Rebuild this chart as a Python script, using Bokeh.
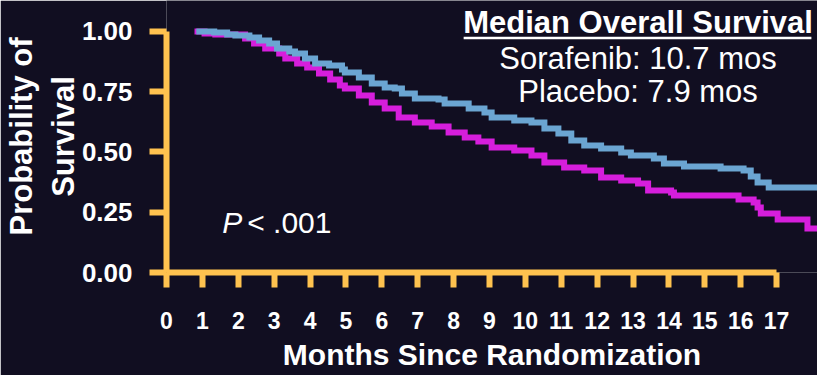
from bokeh.plotting import figure
from bokeh.models import FixedTicker, Label, Range1d, ColumnDataSource
from bokeh.embed import file_html
from bokeh.resources import INLINE

# ---- data ----
months_sorafenib = [0.83, 1.33, 1.69, 1.92, 2.31, 2.58, 2.86, 3.08, 3.42, 3.58, 3.86, 4.14,
                    4.53, 4.89, 4.97, 5.36, 5.72, 6.08, 6.36, 6.56, 6.92, 7.58, 7.75, 8.42,
                    8.86, 9.06, 9.69, 10.17, 10.53, 10.92, 11.28, 11.64, 12.11, 12.67, 12.94,
                    13.58, 13.86, 14.42, 15.44, 16.08, 16.28, 16.47, 16.78, 18.14]
surv_sorafenib = [1.000, 0.996, 0.988, 0.983, 0.975, 0.963, 0.950, 0.929, 0.917, 0.909, 0.888, 0.867,
                  0.859, 0.842, 0.830, 0.809, 0.784, 0.768, 0.763, 0.743, 0.722, 0.718, 0.701, 0.680,
                  0.664, 0.643, 0.631, 0.622, 0.598, 0.577, 0.548, 0.527, 0.515, 0.498, 0.485,
                  0.473, 0.452, 0.440, 0.432, 0.423, 0.398, 0.373, 0.353, 0.349]

months_placebo = [0.78, 1.06, 1.36, 2.19, 2.44, 2.75, 3.14, 3.31, 3.64, 3.92, 4.25, 4.56,
                  4.83, 4.97, 5.36, 5.72, 6.08, 6.47, 6.92, 7.39, 7.86, 8.31, 8.69, 9.06,
                  9.69, 10.17, 10.53, 11.08, 11.64, 12.11, 12.67, 13.14, 13.42, 14.06, 14.14,
                  15.94, 16.36, 16.47, 16.56, 17.03, 17.86, 18.14]
surv_placebo = [1.000, 0.992, 0.988, 0.971, 0.950, 0.929, 0.909, 0.888, 0.867, 0.851, 0.826, 0.801,
                0.776, 0.763, 0.734, 0.705, 0.680, 0.643, 0.622, 0.606, 0.581, 0.560, 0.544, 0.519,
                0.506, 0.485, 0.456, 0.436, 0.423, 0.394, 0.382, 0.369, 0.340, 0.332, 0.320,
                0.303, 0.290, 0.270, 0.245, 0.220, 0.183, 0.183]

x_ticks = list(range(0, 18))
y_ticks = [0.0, 0.25, 0.5, 0.75, 1.0]
y_tick_labels = ["0.00", "0.25", "0.50", "0.75", "1.00"]

title_text = "Median Overall Survival"
sorafenib_text = "Sorafenib: 10.7 mos"
placebo_text = "Placebo: 7.9 mos"
p_text = "P"
p_value_text = "< .001"

# ---- styling ----
BG = "#110e21"
YELLOW = "#ffc24f"
BLUE = "#6ba5d2"
MAGENTA = "#d61edc"
FONT = "Liberation Sans"

p = figure(width=817, height=375, output_backend="svg", toolbar_location=None,
           x_range=Range1d(0, 18.14), y_range=Range1d(0, 1.1286),
           min_border_left=164, min_border_right=0, min_border_top=0, min_border_bottom=103)
p.background_fill_color = BG
p.border_fill_color = BG
p.outline_line_color = None
p.grid.visible = False

src_p = ColumnDataSource(dict(t=months_placebo, s=surv_placebo))
src_s = ColumnDataSource(dict(t=months_sorafenib, s=surv_sorafenib))
p.step(x="t", y="s", source=src_p, mode="after", line_color=MAGENTA, line_width=6, line_join="miter")
p.step(x="t", y="s", source=src_s, mode="after", line_color=BLUE, line_width=6, line_join="miter")

# axes
xa = p.xaxis[0]
xa.ticker = FixedTicker(ticks=x_ticks)
xa.bounds = (0, 17)
xa.axis_line_color = YELLOW
xa.axis_line_width = 6
xa.major_tick_line_color = YELLOW
xa.major_tick_line_width = 6
xa.major_tick_in = 0
xa.major_tick_out = 15
xa.minor_tick_line_color = None
xa.major_label_text_color = "white"
xa.major_label_text_font = FONT
xa.major_label_text_font_style = "bold"
xa.major_label_text_font_size = "23px"
xa.major_label_standoff = 24
xa.axis_label = "Months Since Randomization"
xa.axis_label_text_color = "white"
xa.axis_label_text_font = FONT
xa.axis_label_text_font_style = "bold"
xa.axis_label_text_font_size = "30px"
xa.axis_label_standoff = 6

ya = p.yaxis[0]
ya.ticker = FixedTicker(ticks=y_ticks)
ya.major_label_overrides = {t: l for t, l in zip(y_ticks, y_tick_labels)}
ya.bounds = (0, 1)
ya.axis_line_color = YELLOW
ya.axis_line_width = 6
ya.major_tick_line_color = YELLOW
ya.major_tick_line_width = 6
ya.major_tick_in = 0
ya.major_tick_out = 17
ya.minor_tick_line_color = None
ya.major_label_text_color = "white"
ya.major_label_text_font = FONT
ya.major_label_text_font_style = "bold"
ya.major_label_text_font_size = "26px"
ya.major_label_standoff = 17
ya.axis_label = "Probability of\nSurvival"
ya.axis_label_text_color = "white"
ya.axis_label_text_font = FONT
ya.axis_label_text_font_style = "bold"
ya.axis_label_text_font_size = "31px"
ya.axis_label_standoff = -2

# annotations
cx = 13.14
p.add_layout(Label(x=cx, y=1.037, text=title_text, text_align="center", text_baseline="alphabetic",
                   text_color="white", text_font=FONT, text_font_style="bold", text_font_size="31px"))
p.segment(x0=[8.28], y0=[0.973], x1=[17.97], y1=[0.973], line_color="white", line_width=2.5)
p.add_layout(Label(x=cx, y=0.888, text=sorafenib_text, text_align="center", text_baseline="alphabetic",
                   text_color="white", text_font=FONT, text_font_size="31px"))
p.add_layout(Label(x=cx, y=0.751, text=placebo_text, text_align="center", text_baseline="alphabetic",
                   text_color="white", text_font=FONT, text_font_size="31px"))
p.add_layout(Label(x=1.556, y=0.207, text=p_text, text_align="left", text_baseline="alphabetic",
                   text_color="white", text_font=FONT, text_font_style="italic", text_font_size="30px"))
p.add_layout(Label(x=2.25, y=0.207, text=p_value_text, text_align="left", text_baseline="alphabetic",
                   text_color="white", text_font=FONT, text_font_size="30px"))

html = file_html(p, INLINE)
html = html.replace("<body>", "<body style=\"background-color:%s;\">" % BG, 1)
open("out.html", "w").write(html)
